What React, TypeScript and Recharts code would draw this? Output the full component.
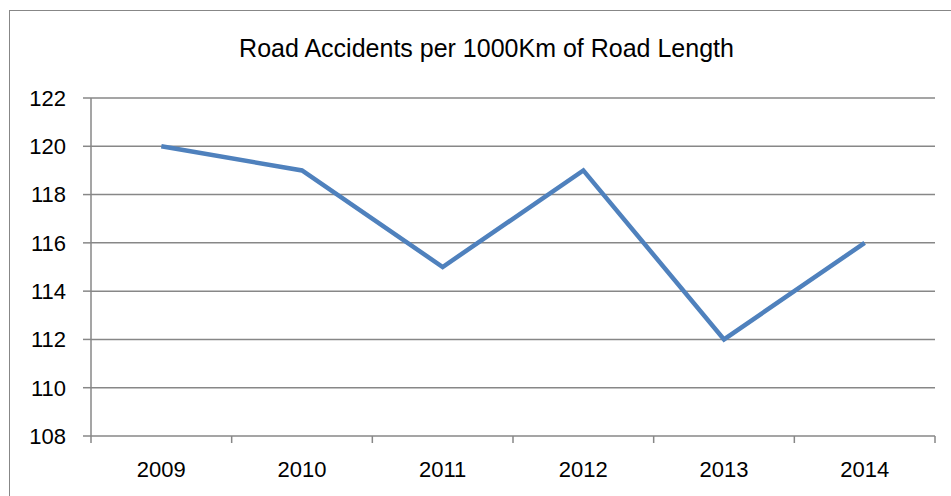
import React from "react"
import { CartesianGrid, Line, LineChart, XAxis, YAxis } from "recharts"

const years = ["2009", "2010", "2011", "2012", "2013", "2014"]
const accidents = [120, 119, 115, 119, 112, 116]
const yTicks = [108, 110, 112, 114, 116, 118, 120, 122]
const title = "Road Accidents per 1000Km of Road Length"

const data = years.map((year, i) => ({ year, value: accidents[i] }))

const W = 951
const H = 496
const PLOT_LEFT = 91
const PLOT_RIGHT = 935
const PLOT_TOP = 98
const PLOT_BOTTOM = 436
const BAND = (PLOT_RIGHT - PLOT_LEFT) / years.length
const GREY = "#878787"
const FONT = "'Liberation Sans', Arial, sans-serif"

// excel style: tick marks sit between the categories, label in the middle
function YearTick(props: any) {
  const { x, payload, index } = props
  const half = BAND / 2
  const y0 = PLOT_BOTTOM
  return (
    <g>
      <line x1={x - half} x2={x - half} y1={y0} y2={y0 + 7} stroke={GREY} strokeWidth={1.5} />
      {index === years.length - 1 && (
        <line x1={x + half} x2={x + half} y1={y0} y2={y0 + 7} stroke={GREY} strokeWidth={1.5} />
      )}
      <text x={x} y={y0 + 35} dominantBaseline="middle" textAnchor="middle" fontSize={22} fill="#000" fontFamily={FONT}>
        {payload.value}
      </text>
    </g>
  )
}

export default function App() {
  return (
    <div style={{ position: "fixed", left: 0, top: 0, width: W, height: H, background: "#fff", overflow: "hidden" }}>
      <div
        style={{
          position: "absolute",
          left: 9,
          top: 10,
          width: 960,
          height: 500,
          border: `1.5px solid ${GREY}`,
          boxSizing: "border-box",
        }}
      />
      <div
        style={{
          position: "absolute",
          left: 9,
          top: 33,
          width: 955,
          textAlign: "center",
          fontFamily: FONT,
          fontSize: 25,
          lineHeight: "30px",
          color: "#000",
        }}
      >
        {title}
      </div>
      <div style={{ position: "absolute", left: 0, top: 0 }}>
        <LineChart
          width={W}
          height={H}
          data={data}
          margin={{ top: PLOT_TOP, right: W - PLOT_RIGHT, bottom: 0, left: 0 }}
        >
          <CartesianGrid vertical={false} stroke={GREY} strokeWidth={1.5} />
          <XAxis
            dataKey="year"
            height={H - PLOT_BOTTOM}
            padding={{ left: BAND / 2, right: BAND / 2 }}
            axisLine={false}
            tickLine={false}
            tick={<YearTick />}
            interval={0}
          />
          <YAxis
            width={PLOT_LEFT}
            domain={[108, 122]}
            ticks={yTicks}
            allowDataOverflow
            axisLine={{ stroke: GREY, strokeWidth: 1.5 }}
            tickLine={{ stroke: GREY, strokeWidth: 1.5 }}
            tickSize={8}
            tickMargin={17}
            tick={{ fill: "#000", fontSize: 22, fontFamily: FONT }}
          />
          <Line
            type="linear"
            dataKey="value"
            stroke="#4F81BD"
            strokeWidth={4.5}
            dot={false}
            isAnimationActive={false}
          />
        </LineChart>
      </div>
    </div>
  )
}
